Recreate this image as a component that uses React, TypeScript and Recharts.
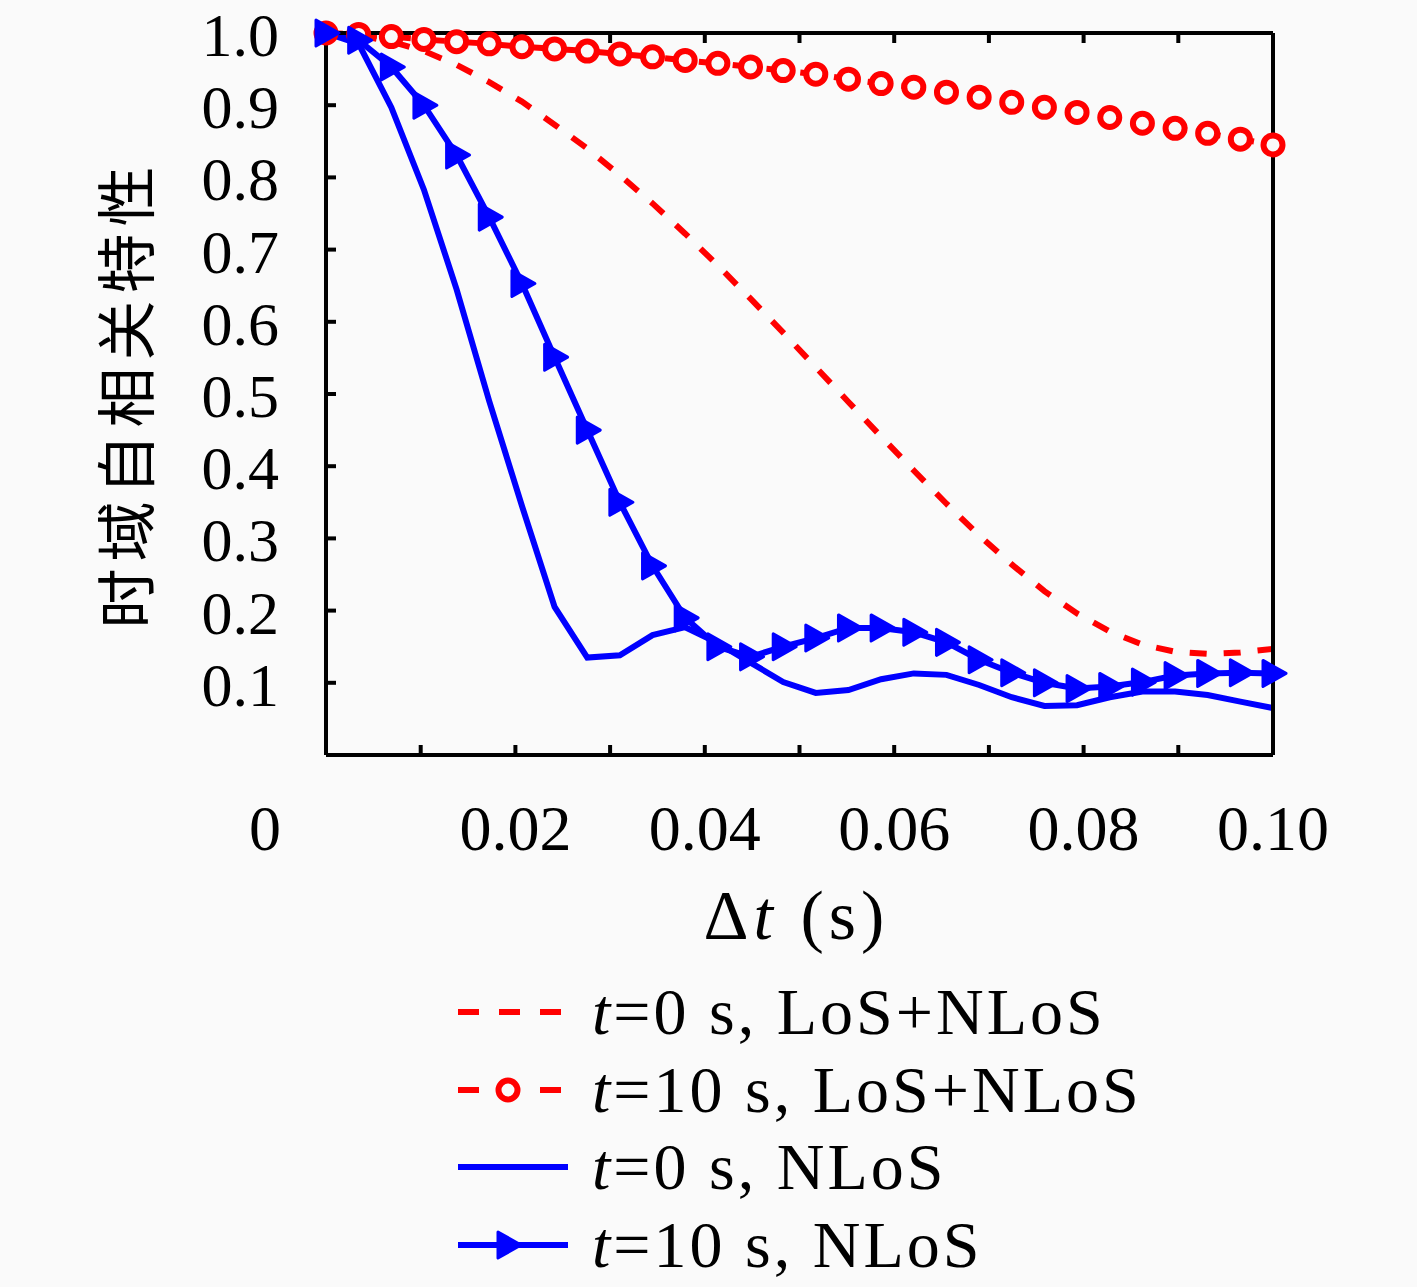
import { Legend, Line, LineChart, XAxis, YAxis } from 'recharts'

const SERIF = '"Liberation Serif", "Times New Roman", serif'
const CJK = '"Noto Sans CJK SC", sans-serif'
const RED = '#ff0000'
const BLUE = '#0000ff'

// Δt samples (s)
const DT = [
  0, 0.00345, 0.0069, 0.01034, 0.01379, 0.01724, 0.02069, 0.02414, 0.02759, 0.03103,
  0.03448, 0.03793, 0.04138, 0.04483, 0.04828, 0.05172, 0.05517, 0.05862, 0.06207, 0.06552,
  0.06897, 0.07241, 0.07586, 0.07931, 0.08276, 0.08621, 0.08966, 0.0931, 0.09655, 0.1,
]

const LOS_T0 = [
  1.0, 0.997, 0.988, 0.975, 0.956, 0.932, 0.905, 0.873, 0.84, 0.803,
  0.764, 0.722, 0.678, 0.632, 0.585, 0.537, 0.489, 0.441, 0.394, 0.348,
  0.304, 0.264, 0.227, 0.196, 0.171, 0.153, 0.143, 0.14, 0.142, 0.147,
]

const LOS_T10 = [
  1.0, 0.998, 0.995, 0.991, 0.988, 0.985, 0.981, 0.978, 0.975, 0.971,
  0.967, 0.962, 0.958, 0.953, 0.948, 0.943, 0.936, 0.93, 0.925, 0.918,
  0.911, 0.904, 0.897, 0.89, 0.883, 0.875, 0.868, 0.861, 0.853, 0.845,
]

const NLOS_T0 = [
  1.0, 0.985, 0.897, 0.783, 0.645, 0.49, 0.345, 0.205, 0.135, 0.138,
  0.166, 0.177, 0.155, 0.128, 0.101, 0.086, 0.09, 0.105, 0.113, 0.111,
  0.097, 0.08, 0.068, 0.069, 0.08, 0.088, 0.088, 0.083, 0.074, 0.065,
]

const NLOS_T10 = [
  1.0, 0.99, 0.953, 0.9, 0.831, 0.745, 0.653, 0.551, 0.45, 0.35,
  0.262, 0.19, 0.15, 0.136, 0.15, 0.162, 0.176, 0.176, 0.17, 0.156,
  0.132, 0.114, 0.1, 0.092, 0.095, 0.101, 0.11, 0.113, 0.114, 0.113,
]

const X_TICKS = [0, 0.01, 0.02, 0.03, 0.04, 0.05, 0.06, 0.07, 0.08, 0.09, 0.1]
const X_TICK_LABELS = ['0', '', '0.02', '', '0.04', '', '0.06', '', '0.08', '', '0.10']
const Y_TICKS = [0, 0.1, 0.2, 0.3, 0.4, 0.5, 0.6, 0.7, 0.8, 0.9, 1.0]
const Y_TICK_LABELS = ['', '0.1', '0.2', '0.3', '0.4', '0.5', '0.6', '0.7', '0.8', '0.9', '1.0']

const Y_TITLE = '时域自相关特性'

type Marker = 'none' | 'circle' | 'triangle'

interface SeriesDef {
  key: string
  t: string
  kind: string
  color: string
  dash?: string
  marker: Marker
}

const SERIES: SeriesDef[] = [
  { key: 'losT0', t: '0', kind: 'LoS+NLoS', color: RED, dash: '17 17', marker: 'none' },
  { key: 'losT10', t: '10', kind: 'LoS+NLoS', color: RED, dash: '17 17', marker: 'circle' },
  { key: 'nlosT0', t: '0', kind: 'NLoS', color: BLUE, marker: 'none' },
  { key: 'nlosT10', t: '10', kind: 'NLoS', color: BLUE, marker: 'triangle' },
]

const data = DT.map((dt, i) => ({
  dt,
  losT0: LOS_T0[i],
  losT10: LOS_T10[i],
  nlosT0: NLOS_T0[i],
  nlosT10: NLOS_T10[i],
}))

function CircleMark({ cx, cy, color }: { cx: number; cy: number; color: string }) {
  return <circle cx={cx} cy={cy} r={9.5} fill="#fafafa" stroke={color} strokeWidth={6} />
}

function TriangleMark({ cx, cy, color }: { cx: number; cy: number; color: string }) {
  const pts = `${cx - 10},${cy - 13} ${cx + 13},${cy} ${cx - 10},${cy + 13}`
  return <polygon points={pts} fill={color} stroke={color} strokeWidth={3} strokeLinejoin="round" />
}

function markerDot(s: SeriesDef) {
  if (s.marker === 'none') return false
  return (props: any) => {
    const { cx, cy, index } = props
    if (cx == null || cy == null) return <g key={`${s.key}-${index}`} />
    return s.marker === 'circle' ? (
      <CircleMark key={`${s.key}-${index}`} cx={cx} cy={cy} color={s.color} />
    ) : (
      <TriangleMark key={`${s.key}-${index}`} cx={cx} cy={cy} color={s.color} />
    )
  }
}

function XTick(props: any) {
  const { x, y, index } = props
  const label = X_TICK_LABELS[index]
  if (!label) return <g />
  // the origin label sits left of the corner, as in the original figure
  const shift = index === 0 ? -61 : 0
  return (
    <text
      x={x + shift}
      y={y + 73}
      textAnchor="middle"
      dominantBaseline="central"
      fontFamily={SERIF}
      fontSize={64}
      fill="#000"
    >
      {label}
    </text>
  )
}

function YTick(props: any) {
  const { x, y, index } = props
  const label = Y_TICK_LABELS[index]
  if (!label) return <g />
  return (
    <text x={x} y={y + 2} textAnchor="end" dominantBaseline="central" fontFamily={SERIF} fontSize={62} fill="#000">
      {label}
    </text>
  )
}

function NoTick() {
  return <g />
}

function LegendIcon({ s }: { s: SeriesDef }) {
  return (
    <svg width={142} height={78} style={{ flex: 'none' }}>
      <line x1={8} y1={39} x2={s.dash ? 112 : 118} y2={39} stroke={s.color} strokeWidth={6} strokeDasharray={s.dash ? '21 20' : undefined} />
      {s.marker === 'circle' && <CircleMark cx={58} cy={39} color={s.color} />}
      {s.marker === 'triangle' && <TriangleMark cx={58} cy={39} color={s.color} />}
    </svg>
  )
}

function LegendBox({ payload }: any) {
  const items = (payload ?? []).map((p: any) => SERIES.find((s) => s.key === p.dataKey)).filter(Boolean)
  return (
    <div style={{ fontFamily: SERIF, fontSize: 66, color: '#000' }}>
      {items.map((s: SeriesDef) => (
        <div key={s.key} style={{ display: 'flex', alignItems: 'center', height: 77.7 }}>
          <LegendIcon s={s} />
          <span style={{ whiteSpace: 'nowrap', lineHeight: 1, letterSpacing: 3 }}>
            <i>t</i>={s.t} s, {s.kind}
          </span>
        </div>
      ))}
    </div>
  )
}

const axisStroke = { stroke: '#000', strokeWidth: 4 }

export default function App() {
  return (
    <div style={{ position: 'absolute', left: 0, top: 0, width: 1417, height: 1287, background: '#fafafa' }}>
      <LineChart width={1417} height={1287} data={data} margin={{ top: 32, right: 143, bottom: 472, left: 266 }}>
        <XAxis
          xAxisId="b"
          dataKey="dt"
          type="number"
          domain={[0, 0.1]}
          ticks={X_TICKS}
          interval={0}
          height={60}
          tickSize={-10}
          tickMargin={10}
          tick={XTick}
          axisLine={axisStroke}
          tickLine={axisStroke}
          label={{
            content: ({ viewBox }: any) => (
              <text
                x={viewBox.x + viewBox.width / 2 - 3}
                y={viewBox.y + 160}
                textAnchor="middle"
                dominantBaseline="central"
                fontFamily={SERIF}
                fontSize={70}
                letterSpacing={5}
                fill="#000"
              >
                Δ<tspan fontStyle="italic">t</tspan> (s)
              </text>
            ),
          }}
        />
        <XAxis
          xAxisId="t"
          orientation="top"
          dataKey="dt"
          type="number"
          domain={[0, 0.1]}
          ticks={X_TICKS}
          interval={0}
          height={1}
          tickSize={-10}
          tick={NoTick}
          axisLine={axisStroke}
          tickLine={axisStroke}
        />
        <YAxis
          yAxisId="l"
          type="number"
          domain={[0, 1]}
          ticks={Y_TICKS}
          interval={0}
          width={60}
          tickSize={-10}
          tickMargin={57}
          tick={YTick}
          axisLine={axisStroke}
          tickLine={axisStroke}
          label={{
            content: ({ viewBox }: any) => {
              const cx = viewBox.x - 144
              const cy = viewBox.y + viewBox.height / 2
              return (
                <text
                  x={cx}
                  y={cy}
                  transform={`rotate(-90 ${cx} ${cy})`}
                  textAnchor="middle"
                  dominantBaseline="central"
                  fontFamily={CJK}
                  fontSize={60}
                  letterSpacing={7}
                  fill="#000"
                >
                  {Y_TITLE}
                </text>
              )
            },
          }}
        />
        <YAxis
          yAxisId="r"
          orientation="right"
          type="number"
          domain={[0, 1]}
          ticks={Y_TICKS}
          interval={0}
          width={1}
          tickSize={-10}
          tick={NoTick}
          axisLine={axisStroke}
          tickLine={axisStroke}
        />
        {SERIES.map((s) => (
          <Line
            key={s.key}
            xAxisId="b"
            yAxisId="l"
            dataKey={s.key}
            type="linear"
            stroke={s.color}
            strokeWidth={6}
            strokeDasharray={s.dash}
            dot={markerDot(s)}
            activeDot={false}
            isAnimationActive={false}
          />
        ))}
        <Legend
          layout="horizontal"
          verticalAlign="middle"
          align="center"
          content={LegendBox}
          wrapperStyle={{ left: 450, top: 973, width: 820 }}
        />
      </LineChart>
    </div>
  )
}
